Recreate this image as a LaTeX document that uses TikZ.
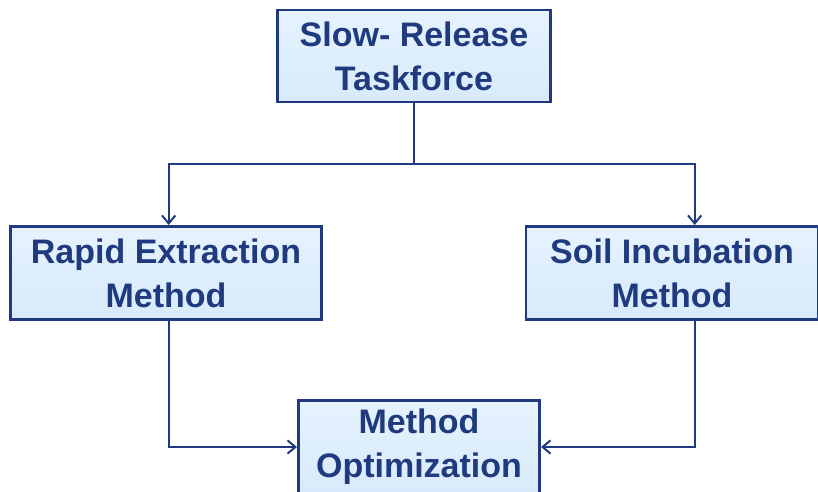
\documentclass[tikz,border=0pt]{standalone}
\usepackage{fontspec}
\setmainfont{Liberation Sans}
\usepackage{xcolor}
\usepackage{tikz}
\usetikzlibrary{positioning,arrows.meta}

\definecolor{navy}{HTML}{1F3A7E}
\definecolor{boxtop}{HTML}{E6F2FE}
\definecolor{boxbot}{HTML}{D8EAFB}

\begin{document}
\begin{tikzpicture}[x=0.75pt, y=-0.75pt]
            \tikzstyle{task} = [rectangle, draw=navy, line width=2pt, top color=boxtop, bottom color=boxbot,
                                text=navy, font=\fontsize{25.5}{33}\selectfont\bfseries, align=center, inner sep=0pt]
            \tikzstyle{link} = [draw=navy, line width=1.5pt, -{Straight Barb[length=6pt, width=10pt]}]
            \useasboundingbox (0,0) rectangle (818,492);

            \node [task, minimum width=205pt, minimum height=69pt] (slow) at (414,56) {Slow- Release\\Taskforce};
            \node [task, minimum width=233pt, minimum height=70pt] (rapid) at (166,273) {Rapid Extraction\\Method};
            \node [task, minimum width=219pt, minimum height=70pt] (soil) at (672,273) {Soil Incubation\\Method};
            \node [task, minimum width=181pt, minimum height=70pt] (optim) at (419,447) {Method\\Optimization};

            \coordinate (split) at (414,164);

            \draw [draw=navy, line width=1.5pt] (slow.south) -- (split);
            \draw [link] (split) -| ([xshift=2pt]rapid.north);
            \draw [link] (split) -| ([xshift=17pt]soil.north);
            \draw [link] ([xshift=2pt]rapid.south) |- (optim.west);
            \draw [link] ([xshift=17pt]soil.south) |- (optim.east);
        \end{tikzpicture}
\end{document}
